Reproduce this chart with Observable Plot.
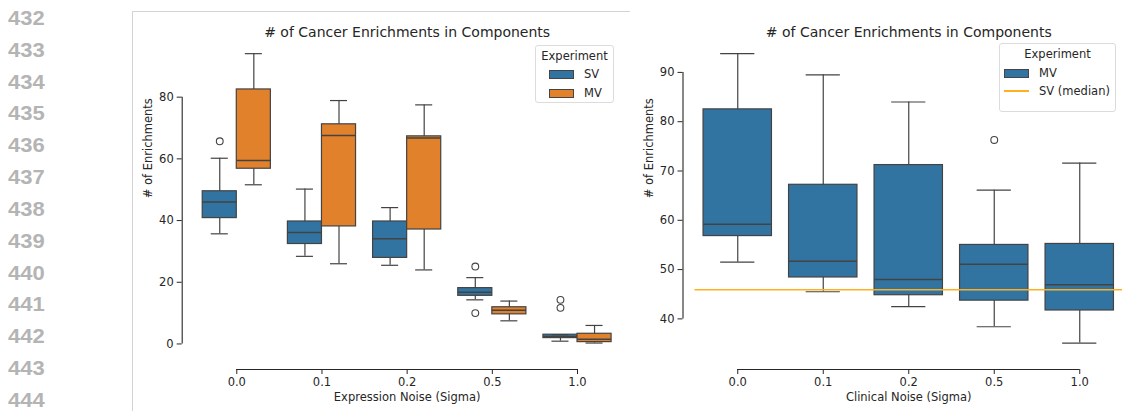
<!DOCTYPE html>
<html><head><meta charset="utf-8">
<script src="https://cdn.jsdelivr.net/npm/d3@7"></script>
<script src="https://cdn.jsdelivr.net/npm/@observablehq/plot@0.6"></script>
<style>
body{margin:0;background:#fff;width:1129px;height:411px;overflow:hidden;position:relative;font-family:"DejaVu Sans",sans-serif;}
.num{position:absolute;left:8px;font-family:"Liberation Sans",Arial,sans-serif;font-weight:bold;font-size:20px;color:#b4b4b4;line-height:20px;transform:scaleX(1.1);transform-origin:left center;}
#cell{position:absolute;left:132px;top:11px;width:497px;height:410px;border-left:1px solid #d4d4d4;border-top:1px solid #d4d4d4;}
.panel{position:absolute;top:0;}
.legend{position:absolute;border:1px solid #dcdcdc;border-radius:3px;background:rgba(255,255,255,0.85);box-sizing:border-box;font-size:11.5px;color:#262626;}
.lg-title{position:absolute;left:0;right:0;text-align:center;line-height:14px;}
.lg-sw{position:absolute;box-sizing:border-box;border:1px solid #444;}
.lg-line{position:absolute;height:1.5px;background:orange;}
.lg-lab{position:absolute;line-height:14px;white-space:nowrap;}
</style>
</head><body>
<div id="cell"></div>
<div id="root"></div>
<script>
// ---------- data ----------
const lineNumbers = [432,433,434,435,436,437,438,439,440,441,442,443,444];
const noiseLevels = ["0.0","0.1","0.2","0.5","1.0"];
const experiments = ["SV","MV"];

// Left panel: Expression noise, SV
const exprSvLow  = [35.7, 28.4, 25.5, 14.3, 0.9];
const exprSvQ1   = [40.8, 32.4, 27.9, 15.6, 1.9];
const exprSvMed  = [46.0, 36.1, 34.1, 16.8, 2.4];
const exprSvQ3   = [49.5, 39.7, 39.7, 18.1, 3.0];
const exprSvHigh = [60.2, 50.2, 44.2, 21.5, 3.0];
// Left panel: Expression noise, MV
const exprMvLow  = [51.6, 26.0, 24.0, 7.5, 0.3];
const exprMvQ1   = [56.8, 38.1, 37.1, 9.6, 0.6];
const exprMvMed  = [59.5, 67.6, 66.8, 10.9, 1.5];
const exprMvQ3   = [82.5, 71.2, 67.3, 11.9, 3.3];
const exprMvHigh = [94.1, 78.9, 77.5, 13.9, 6.0];
// Left panel outliers (SV)
const exprOutNoise  = ["0.0","0.5","0.5","1.0","1.0"];
const exprOutSeries = ["SV","SV","SV","SV","SV"];
const exprOutValue  = [65.7, 25.1, 10.0, 14.3, 11.7];

// Right panel: Clinical noise, MV
const clinMvLow  = [51.5, 45.5, 42.5, 38.4, 35.1];
const clinMvQ1   = [56.8, 48.4, 44.8, 43.7, 41.7];
const clinMvMed  = [59.2, 51.7, 48.0, 51.1, 46.9];
const clinMvQ3   = [82.5, 67.2, 71.2, 55.0, 55.2];
const clinMvHigh = [93.8, 89.5, 84.0, 66.1, 71.6];
const clinOutNoise = ["0.5"];
const clinOutValue = [76.3];
const clinSvMedian = 45.9;

const exprTicks = [0, 20, 40, 60, 80];
const clinTicks = [40, 50, 60, 70, 80, 90];

const titleText = "# of Cancer Enrichments in Components";
const yLabelText = "# of Enrichments";
const exprXLabel = "Expression Noise (Sigma)";
const clinXLabel = "Clinical Noise (Sigma)";

// ---------- styles ----------
const BLUE = "#3274a1", ORANGE = "#e1812c", EDGE = "#434343", INK = "#262626";

function makeRows(series, low, q1, med, q3, high) {
  return noiseLevels.map((n, i) => ({noise: n, i, series, low: low[i], q1: q1[i], med: med[i], q3: q3[i], high: high[i]}));
}
function paddedDomain(values) {
  const [a, b] = d3.extent(values);
  const p = (b - a) * 0.05;
  return [a - p, b + p];
}

function boxMarks(rows, offset, w) {
  const c = d => d.i + offset(d.series);
  return [
    Plot.ruleX(rows, {x: c, y1: "low", y2: "high", stroke: EDGE, strokeWidth: 1.2}),
    Plot.rect(rows, {x1: d => c(d) - w / 2, x2: d => c(d) + w / 2, y1: "q1", y2: "q3", fill: "series", stroke: EDGE, strokeWidth: 1.2}),
    Plot.ruleY(rows, {y: "med", x1: d => c(d) - w / 2, x2: d => c(d) + w / 2, stroke: EDGE, strokeWidth: 1.5}),
    Plot.ruleY(rows, {y: "low", x1: d => c(d) - w / 4, x2: d => c(d) + w / 4, stroke: EDGE, strokeWidth: 1.2}),
    Plot.ruleY(rows, {y: "high", x1: d => c(d) - w / 4, x2: d => c(d) + w / 4, stroke: EDGE, strokeWidth: 1.2})
  ];
}

function frameMarks(yDomain, yTicks, xLabel) {
  const mid = (noiseLevels.length - 1) / 2;
  return [
    Plot.axisY({ticks: yTicks, tickSize: 5, tickPadding: 3.5, label: null, stroke: INK, fill: INK}),
    Plot.axisX({ticks: d3.range(noiseLevels.length), tickFormat: i => noiseLevels[i], tickSize: 5, tickPadding: 3, label: null, stroke: INK, fill: INK}),
    Plot.ruleX([-0.5], {y1: yTicks[0], y2: yTicks[yTicks.length - 1], dx: -12, stroke: INK, strokeWidth: 1.1}),
    Plot.ruleY([yDomain[0]], {x1: 0, x2: noiseLevels.length - 1, dy: 12, stroke: INK, strokeWidth: 1.1}),
    Plot.text([titleText], {x: mid, frameAnchor: "top", dy: -12, fontSize: 14, fill: INK}),
    Plot.text([xLabel], {x: mid, frameAnchor: "bottom", dy: 31, fill: INK}),
    Plot.text([yLabelText], {y: (yDomain[0] + yDomain[1]) / 2, frameAnchor: "left", dx: -34, rotate: -90, fill: INK})
  ];
}

const root = document.getElementById("root");

// ---------- left panel ----------
const exprRows = [
  ...makeRows("SV", exprSvLow, exprSvQ1, exprSvMed, exprSvQ3, exprSvHigh),
  ...makeRows("MV", exprMvLow, exprMvQ1, exprMvMed, exprMvQ3, exprMvHigh)
];
const exprOut = exprOutValue.map((v, k) => ({i: noiseLevels.indexOf(exprOutNoise[k]), series: exprOutSeries[k], value: v}));
const exprDomain = paddedDomain([...exprRows.flatMap(d => [d.low, d.high]), ...exprOutValue]);
const dodge = s => s === "SV" ? -0.2 : 0.2;

const left = Plot.plot({
  width: 500, height: 411,
  marginLeft: 51.7, marginRight: 10.4, marginTop: 38.7, marginBottom: 42,
  x: {domain: [-0.5, 4.5], insetLeft: 12},
  y: {domain: exprDomain, insetBottom: 12},
  color: {domain: experiments, range: [BLUE, ORANGE]},
  style: {fontFamily: "DejaVu Sans", fontSize: "11.5px", color: INK, background: "transparent", overflow: "visible"},
  marks: [
    ...frameMarks(exprDomain, exprTicks, exprXLabel),
    ...boxMarks(exprRows, dodge, 0.4),
    Plot.dot(exprOut, {x: d => d.i + dodge(d.series), y: "value", r: 3.4, stroke: EDGE, strokeWidth: 1.1, fill: "none"})
  ]
});
left.classList.add("panel");
left.style.left = "130px";
root.appendChild(left);

// ---------- right panel ----------
const clinRows = makeRows("MV", clinMvLow, clinMvQ1, clinMvMed, clinMvQ3, clinMvHigh);
const clinOut = clinOutValue.map((v, k) => ({i: noiseLevels.indexOf(clinOutNoise[k]), value: v}));
const clinDomain = paddedDomain([...clinRows.flatMap(d => [d.low, d.high]), ...clinOutValue]);

const right = Plot.plot({
  width: 499, height: 411,
  marginLeft: 52.5, marginRight: 7, marginTop: 38.7, marginBottom: 42,
  x: {domain: [-0.5, 4.5], insetLeft: 12},
  y: {domain: clinDomain, insetBottom: 12},
  color: {domain: ["MV"], range: [BLUE]},
  style: {fontFamily: "DejaVu Sans", fontSize: "11.5px", color: INK, background: "transparent", overflow: "visible"},
  marks: [
    ...frameMarks(clinDomain, clinTicks, clinXLabel),
    ...boxMarks(clinRows, () => 0, 0.8),
    Plot.dot(clinOut, {x: "i", y: "value", r: 3.4, stroke: EDGE, strokeWidth: 1.1, fill: "none"}),
    Plot.ruleY([clinSvMedian], {x1: -0.5, x2: 4.5, stroke: "#ffb020", strokeWidth: 1.5})
  ]
});
right.classList.add("panel");
right.style.left = "630px";
root.appendChild(right);

// ---------- line numbers ----------
lineNumbers.forEach((n, k) => {
  const d = document.createElement("div");
  d.className = "num";
  d.textContent = n;
  d.style.top = (18 + k * 31.83 - 10) + "px";
  root.appendChild(d);
});

// ---------- legends ----------
function legend(box, title, items) {
  const L = document.createElement("div");
  L.className = "legend";
  Object.assign(L.style, {left: box[0] + "px", top: box[1] + "px", width: box[2] + "px", height: box[3] + "px"});
  const t = document.createElement("div");
  t.className = "lg-title"; t.textContent = title; t.style.top = "3px";
  L.appendChild(t);
  items.forEach(it => {
    if (it.kind === "patch") {
      const s = document.createElement("div");
      s.className = "lg-sw";
      Object.assign(s.style, {left: it.sx + "px", top: (it.cy - 4.5) + "px", width: "25px", height: "9px", background: it.color});
      L.appendChild(s);
    } else {
      const s = document.createElement("div");
      s.className = "lg-line";
      Object.assign(s.style, {left: it.sx + "px", top: (it.cy - 0.75) + "px", width: "25px", background: it.color});
      L.appendChild(s);
    }
    const lab = document.createElement("div");
    lab.className = "lg-lab"; lab.textContent = it.label;
    Object.assign(lab.style, {left: (it.sx + 35) + "px", top: (it.cy - 7) + "px"});
    L.appendChild(lab);
  });
  root.appendChild(L);
}
legend([535, 45, 79, 58], "Experiment", [
  {kind: "patch", label: experiments[0], color: BLUE, sx: 13, cy: 28},
  {kind: "patch", label: experiments[1], color: ORANGE, sx: 13, cy: 47}
]);
legend([999, 43, 117, 69], "Experiment", [
  {kind: "patch", label: "MV", color: BLUE, sx: 4, cy: 29},
  {kind: "line", label: "SV (median)", color: "#ffb020", sx: 4, cy: 47}
]);
</script>
</body></html>
